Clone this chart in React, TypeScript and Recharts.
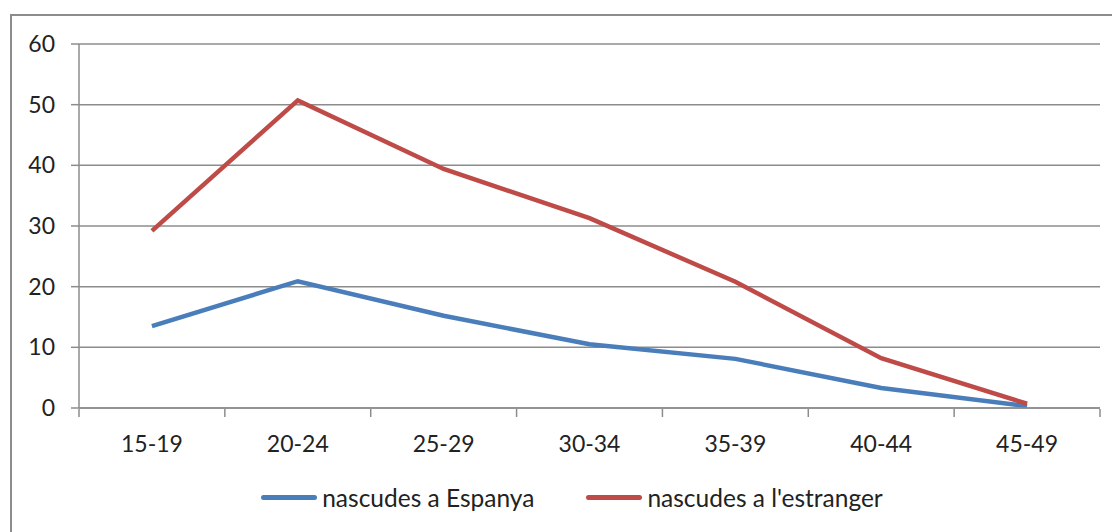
import { LineChart, Line, XAxis, YAxis, CartesianGrid, Legend } from "recharts";

const ageGroups = ["15-19", "20-24", "25-29", "30-34", "35-39", "40-44", "45-49"];
const bornInSpain = [13.5, 20.9, 15.2, 10.5, 8.1, 3.3, 0.3];
const bornAbroad = [29.2, 50.7, 39.4, 31.3, 20.8, 8.2, 0.7];
const yTicks = [0, 10, 20, 30, 40, 50, 60];

const data = ageGroups.map((age, i) => ({
  age,
  spain: bornInSpain[i],
  abroad: bornAbroad[i],
}));

const W = 1112;
const H = 532;
const PLOT_LEFT = 79;
const PLOT_RIGHT = 1100;
const band = (PLOT_RIGHT - PLOT_LEFT) / ageGroups.length;
const grey = "#8c8c8c";
const font = "Lato, 'Noto Sans', sans-serif";

function CategoryTick(props: any) {
  const { x, y, payload, index } = props;
  return (
    <g>
      <line x1={x - band / 2} x2={x - band / 2} y1={y - 7} y2={y + 1} stroke={grey} strokeWidth={1.5} />
      {index === ageGroups.length - 1 && (
        <line x1={x + band / 2} x2={x + band / 2} y1={y - 7} y2={y + 1} stroke={grey} strokeWidth={1.5} />
      )}
      <text x={x} y={y + 36} textAnchor="middle" fill="#222" fontSize={23} fontFamily={font}>
        {payload.value}
      </text>
    </g>
  );
}

function LegendContent() {
  const items = [
    { label: "nascudes a Espanya", color: "#4a7ebb" },
    { label: "nascudes a l'estranger", color: "#be4b48" },
  ];
  return (
    <div style={{ display: "flex", justifyContent: "center", gap: 52, paddingTop: 25, paddingLeft: 44, fontFamily: font, fontSize: 24.5, color: "#222" }}>
      {items.map((it) => (
        <div key={it.label} style={{ display: "flex", alignItems: "center", gap: 5 }}>
          <span style={{ width: 56, height: 5, borderRadius: 2.5, background: it.color, display: "inline-block" }} />
          <span>{it.label}</span>
        </div>
      ))}
    </div>
  );
}

export default function App() {
  return (
    <div style={{ position: "absolute", left: 0, top: 0, width: W, height: H, overflow: "hidden", background: "#fff" }}>
      <div style={{ position: "absolute", left: 10, top: 14, width: W, height: H, border: `2px solid ${grey}` }} />
      <div style={{ position: "absolute", left: 0, top: 0 }}>
        <LineChart width={W} height={H} data={data} margin={{ top: 44, right: W - PLOT_RIGHT, bottom: 0, left: 0 }}>
          <CartesianGrid vertical={false} stroke={grey} strokeWidth={1.5} />
          <XAxis
            dataKey="age"
            height={50}
            stroke={grey}
            strokeWidth={1.5}
            tickLine={false}
            tick={<CategoryTick />}
            interval={0}
            padding={{ left: band / 2, right: band / 2 }}
          />
          <YAxis
            width={PLOT_LEFT}
            domain={[0, 60]}
            ticks={yTicks}
            stroke={grey}
            strokeWidth={1.5}
            tickSize={8}
            tickMargin={16}
            tick={{ fill: "#222", fontSize: 23, fontFamily: font }}
          />
          <Legend verticalAlign="bottom" wrapperStyle={{ height: 74 }} content={<LegendContent />} />
          <Line dataKey="spain" name="nascudes a Espanya" stroke="#4a7ebb" strokeWidth={4.5} dot={false} isAnimationActive={false} />
          <Line dataKey="abroad" name="nascudes a l'estranger" stroke="#be4b48" strokeWidth={4.5} dot={false} isAnimationActive={false} />
        </LineChart>
      </div>
    </div>
  );
}
